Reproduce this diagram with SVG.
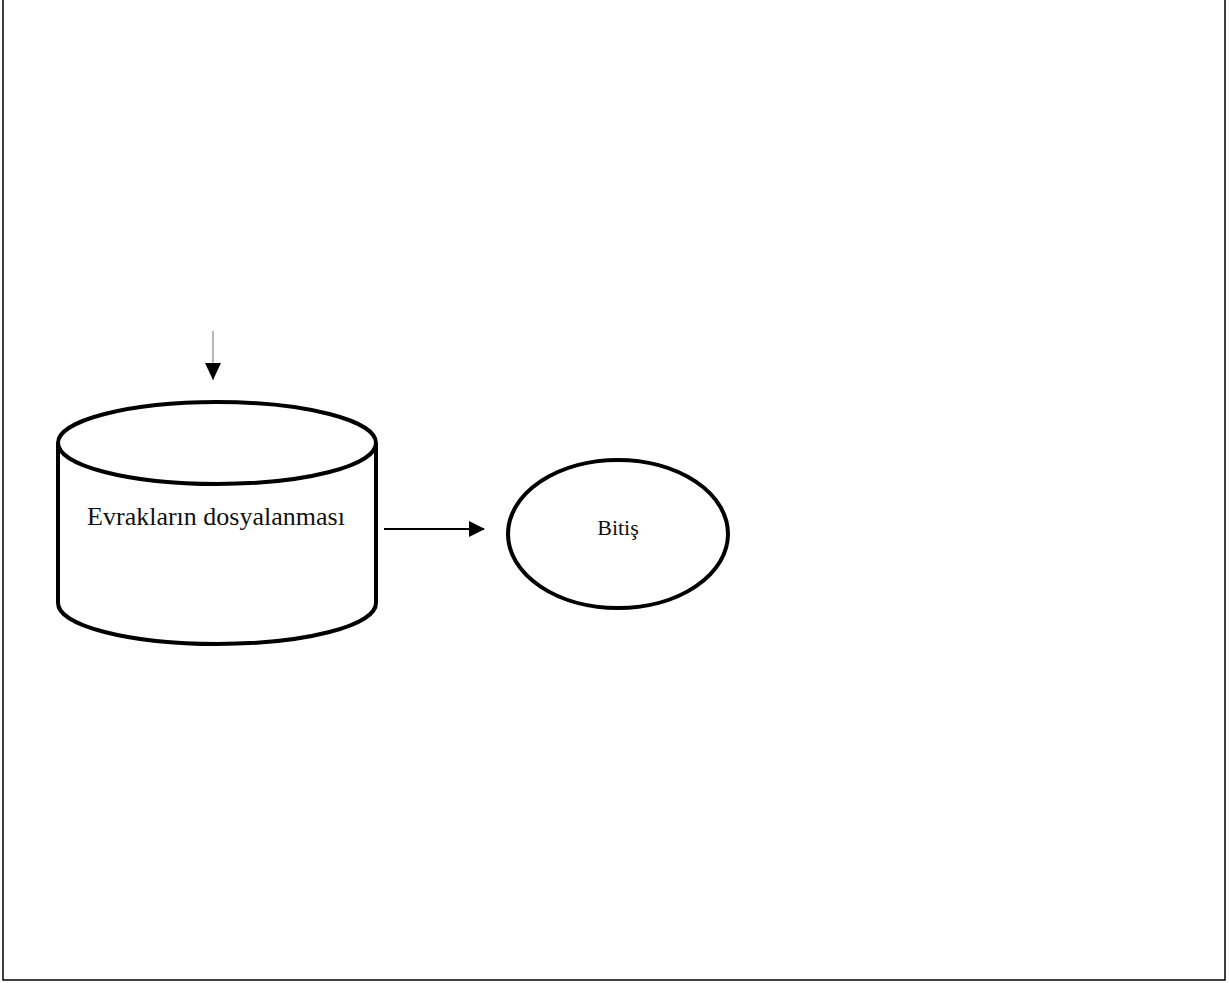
<svg xmlns="http://www.w3.org/2000/svg" width="1229" height="983" viewBox="0 0 1229 983">
<style>
.shape{fill:#fff;stroke:#000;stroke-width:4}
.lbl{font-family:"Liberation Serif","Times New Roman",serif;fill:#111}
</style>
<defs>
<marker id="ah2" markerWidth="16" markerHeight="16" refX="15" refY="8" orient="auto" markerUnits="userSpaceOnUse" viewBox="0 0 16 16"><path d="M0,0 L16,8 L0,16 Z" fill="#000"/></marker>
</defs>
<rect width="1229" height="983" fill="#fff"/>
<path d="M3,0 V980 H1225 V0" fill="none" stroke="#000" stroke-width="1.5"/>
<g id="node-evrak">
<path class="shape" d="M58,443 A159,41 0 0 1 376,443 V603 A159,41 0 0 1 58,603 Z"/>
<path class="shape" fill="none" d="M58,443 A159,41 0 0 0 376,443"/>
<text class="lbl" x="216" y="525" font-size="26" text-anchor="middle">Evrakların dosyalanması</text>
</g>
<g id="node-bitis">
<ellipse class="shape" cx="618" cy="534" rx="110" ry="74"/>
<text class="lbl" x="618" y="535" font-size="22" text-anchor="middle">Bitiş</text>
</g>
<g id="connectors">
<line x1="213" y1="331" x2="213" y2="380" stroke="#888" stroke-width="1.2"/>
<path d="M205,363 L221,363 L213,380 Z" fill="#000"/>
<line x1="384" y1="529" x2="484" y2="529" stroke="#000" stroke-width="2" marker-end="url(#ah2)"/>
</g>
</svg>
